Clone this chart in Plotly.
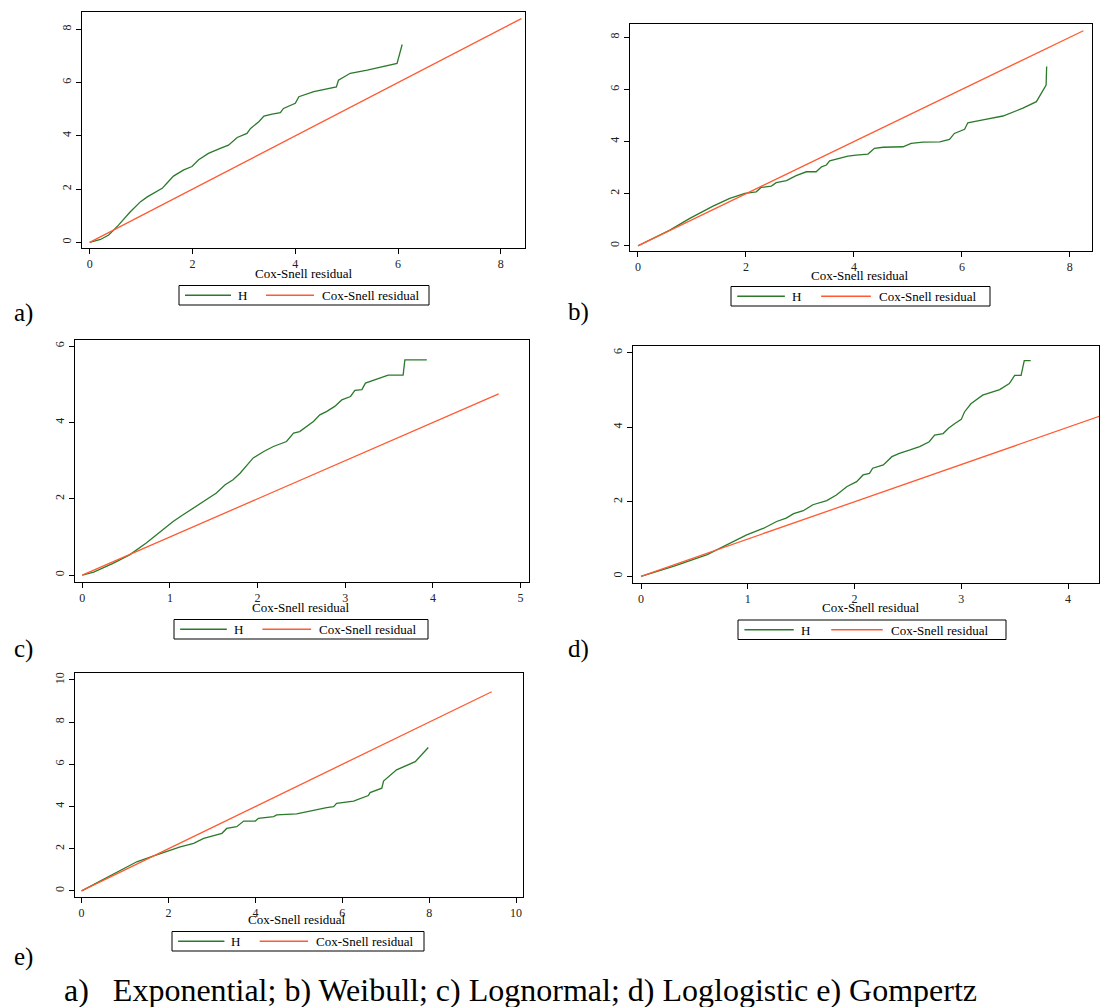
import plotly.graph_objects as go

W, H = 1100, 1007

# ---------------- data ----------------
# a) Exponential
a_h_x = [0, 0.21, 0.37, 0.56, 0.79, 0.99, 1.12, 1.31, 1.41, 1.51, 1.63, 1.83, 1.99, 2.12, 2.31,
         2.54, 2.70, 2.87, 3.06, 3.13, 3.29, 3.39, 3.55, 3.71, 3.77, 4.00, 4.07, 4.36, 4.62, 4.80,
         4.84, 5.07, 5.40, 5.98, 6.08]
a_h_y = [0, 0.11, 0.28, 0.65, 1.15, 1.53, 1.71, 1.94, 2.03, 2.24, 2.49, 2.72, 2.85, 3.10, 3.34,
         3.53, 3.65, 3.94, 4.09, 4.28, 4.53, 4.74, 4.82, 4.87, 5.03, 5.22, 5.47, 5.66, 5.78, 5.84,
         6.09, 6.35, 6.47, 6.72, 7.43]
a_cs = [0, 8.4]

# b) Weibull
b_h_x = [0, 0.59, 0.96, 1.39, 1.70, 1.98, 2.19, 2.28, 2.47, 2.56, 2.75, 2.93, 3.12, 3.30, 3.40,
         3.49, 3.55, 3.73, 3.89, 4.04, 4.26, 4.38, 4.54, 4.91, 5.06, 5.28, 5.59, 5.77, 5.86, 6.05,
         6.11, 6.39, 6.76, 7.13, 7.38, 7.56, 7.57]
b_h_y = [0, 0.60, 1.05, 1.52, 1.82, 2.01, 2.07, 2.24, 2.29, 2.42, 2.50, 2.69, 2.84, 2.84, 3.03,
         3.10, 3.26, 3.35, 3.44, 3.48, 3.52, 3.74, 3.78, 3.80, 3.93, 3.98, 3.99, 4.08, 4.31, 4.47,
         4.72, 4.83, 4.98, 5.28, 5.53, 6.17, 6.88]
b_cs = [0, 8.25]

# c) Lognormal
c_h_x = [0, 0.13, 0.35, 0.54, 0.73, 0.92, 1.04, 1.15, 1.27, 1.42, 1.53, 1.63, 1.72, 1.80, 1.86,
         1.95, 2.07, 2.18, 2.33, 2.41, 2.48, 2.56, 2.64, 2.71, 2.79, 2.88, 2.96, 3.06, 3.11, 3.19,
         3.23, 3.49, 3.66, 3.68, 3.93]
c_h_y = [0, 0.08, 0.31, 0.53, 0.84, 1.19, 1.41, 1.58, 1.76, 1.97, 2.15, 2.37, 2.50, 2.67, 2.83,
         3.07, 3.24, 3.37, 3.50, 3.72, 3.76, 3.90, 4.03, 4.20, 4.29, 4.42, 4.59, 4.68, 4.84, 4.86,
         5.03, 5.24, 5.24, 5.64, 5.64]
c_cs = [0, 4.75]

# d) Loglogistic
d_h_x = [0, 0.31, 0.62, 0.83, 0.99, 1.15, 1.27, 1.36, 1.43, 1.52, 1.61, 1.74, 1.83, 1.93, 2.02,
         2.08, 2.14, 2.17, 2.27, 2.35, 2.42, 2.52, 2.61, 2.70, 2.75, 2.83, 2.88, 2.94, 3.00, 3.03,
         3.09, 3.20, 3.36, 3.45, 3.50, 3.56, 3.59, 3.65]
d_h_y = [0, 0.27, 0.58, 0.89, 1.11, 1.29, 1.47, 1.56, 1.68, 1.76, 1.92, 2.03, 2.18, 2.41, 2.54,
         2.72, 2.76, 2.90, 2.99, 3.21, 3.30, 3.39, 3.48, 3.61, 3.79, 3.83, 3.97, 4.10, 4.21, 4.41,
         4.63, 4.86, 5.01, 5.17, 5.39, 5.39, 5.79, 5.79]
d_cs = [0, 4.35]

# e) Gompertz
e_h_x = [0, 0.81, 1.27, 1.66, 2.00, 2.27, 2.58, 2.81, 3.23, 3.34, 3.57, 3.73, 4.00, 4.07, 4.42,
         4.49, 4.95, 5.34, 5.64, 5.80, 5.87, 6.26, 6.60, 6.64, 6.91, 6.95, 7.25, 7.68, 7.98]
e_h_y = [0, 0.90, 1.38, 1.66, 1.89, 2.09, 2.25, 2.49, 2.73, 2.96, 3.04, 3.31, 3.31, 3.44, 3.52,
         3.60, 3.65, 3.84, 3.95, 3.99, 4.15, 4.26, 4.52, 4.66, 4.87, 5.21, 5.74, 6.13, 6.80]
e_cs = [0, 9.44]

panel_labels = ["a)", "b)", "c)", "d)", "e)"]
legend_names = ["H", "Cox-Snell residual"]
x_title = "Cox-Snell residual"
caption = "a)\u00a0\u00a0 Exponential; b) Weibull; c) Lognormal; d) Loglogistic e) Gompertz"

x_ticks = {"a": [0, 2, 4, 6, 8], "b": [0, 2, 4, 6, 8], "c": [0, 1, 2, 3, 4, 5],
           "d": [0, 1, 2, 3, 4], "e": [0, 2, 4, 6, 8, 10]}
y_ticks = {"a": [0, 2, 4, 6, 8], "b": [0, 2, 4, 6, 8], "c": [0, 2, 4, 6],
           "d": [0, 2, 4, 6], "e": [0, 2, 4, 6, 8, 10]}

# ---------------- layout (pixel geometry) ----------------
GREEN = "#2b7a2b"
RED = "#ff5a32"
SERIF = "Liberation Serif"
TICKFONT = dict(family=SERIF, size=12, color="#222")

panels = [
    # key, hx, hy, cs, box(x0,x1,ytop,ybottom), xrange, yrange, title(cx,cy), legend(left,right,top)
    ("a", a_h_x, a_h_y, a_cs, (82, 525, 12, 248), [-0.15, 8.47], [-0.21, 8.65], (304, 273), (179, 429, 285.5)),
    ("b", b_h_x, b_h_y, b_cs, (630, 1092, 24, 251), [-0.148, 8.41], [-0.2, 8.51], (860, 275), (731, 990, 286.5)),
    ("c", c_h_x, c_h_y, c_cs, (75, 529, 340, 582), [-0.083, 5.096], [-0.18, 6.16], (301, 607), (174, 428, 619.5)),
    ("d", d_h_x, d_h_y, d_cs, (633, 1099, 346, 583), [-0.075, 4.29], [-0.18, 6.18], (871, 607.5), (738, 1006, 620)),
    ("e", e_h_x, e_h_y, e_cs, (75, 523, 673, 897), [-0.152, 10.16], [-0.29, 10.33], (297, 919.5), (172, 424, 931.5)),
]

def px(x):
    return x / W

def py(y):
    return 1 - y / H

fig = go.Figure()
layout = dict(width=W, height=H, margin=dict(l=0, r=0, t=0, b=0),
              paper_bgcolor="white", plot_bgcolor="white", showlegend=False)
annotations = []
shapes = []

for i, (key, hx, hy, cs, box, xr, yr, tpos, lg) in enumerate(panels):
    n = i + 1
    xa = "x" if n == 1 else f"x{n}"
    ya = "y" if n == 1 else f"y{n}"
    fig.add_trace(go.Scatter(x=hx, y=hy, mode="lines", name=legend_names[0],
                             line=dict(color=GREEN, width=1.3), xaxis=xa, yaxis=ya))
    fig.add_trace(go.Scatter(x=cs, y=cs, mode="lines", name=legend_names[1],
                             line=dict(color=RED, width=1.3), xaxis=xa, yaxis=ya))
    x0, x1, yt, yb = box
    common = dict(showgrid=False, zeroline=False, showline=True, linecolor="black", linewidth=1,
                  mirror=True, ticks="outside", ticklen=5, tickcolor="black", tickfont=TICKFONT)
    layout["xaxis" if n == 1 else f"xaxis{n}"] = dict(
        domain=[px(x0), px(x1)], range=xr, tickvals=x_ticks[key], anchor=ya, **common)
    layout["yaxis" if n == 1 else f"yaxis{n}"] = dict(
        domain=[py(yb), py(yt)], range=yr, tickvals=y_ticks[key], tickangle=-90,
        anchor=xa, **common)
    annotations.append(dict(text=x_title, x=px(tpos[0]), y=py(tpos[1]), xref="paper", yref="paper",
                            showarrow=False, xanchor="center", yanchor="middle",
                            font=dict(family=SERIF, size=13, color="black")))

    # hand-drawn legend box (Stata style)
    L, R, T = lg
    s = (R - L) / 250.0
    B = T + 19.5
    cy = (T + B) / 2
    shapes.append(dict(type="rect", xref="paper", yref="paper", x0=px(L), x1=px(R), y0=py(B), y1=py(T),
                       line=dict(color="black", width=1), fillcolor="white", layer="above"))
    shapes.append(dict(type="line", xref="paper", yref="paper", x0=px(L + 6 * s), x1=px(L + 52 * s),
                       y0=py(cy), y1=py(cy), line=dict(color=GREEN, width=1.3)))
    shapes.append(dict(type="line", xref="paper", yref="paper", x0=px(L + 87 * s), x1=px(L + 135 * s),
                       y0=py(cy), y1=py(cy), line=dict(color=RED, width=1.3)))
    annotations.append(dict(text=legend_names[0], x=px(L + 63 * s), y=py(cy + 0.5), xref="paper", yref="paper",
                            showarrow=False, xanchor="center", yanchor="middle",
                            font=dict(family=SERIF, size=13, color="black")))
    annotations.append(dict(text=legend_names[1], x=px(L + 141 * s), y=py(cy + 0.5), xref="paper", yref="paper",
                            showarrow=False, xanchor="left", yanchor="middle",
                            font=dict(family=SERIF, size=13, color="black")))

label_pos = [(12, 313), (566, 312), (12, 649), (566, 649), (12, 957)]
for lab, (lx, ly) in zip(panel_labels, label_pos):
    annotations.append(dict(text=lab, x=px(lx), y=py(ly), xref="paper", yref="paper", showarrow=False,
                            xanchor="left", yanchor="middle",
                            font=dict(family=SERIF, size=25, color="black")))
annotations.append(dict(text=caption, x=px(62), y=py(990), xref="paper", yref="paper", showarrow=False,
                        xanchor="left", yanchor="middle",
                        font=dict(family=SERIF, size=32, color="black")))

layout["annotations"] = annotations
layout["shapes"] = shapes
fig.update_layout(**layout)
fig.write_html("out.html")
